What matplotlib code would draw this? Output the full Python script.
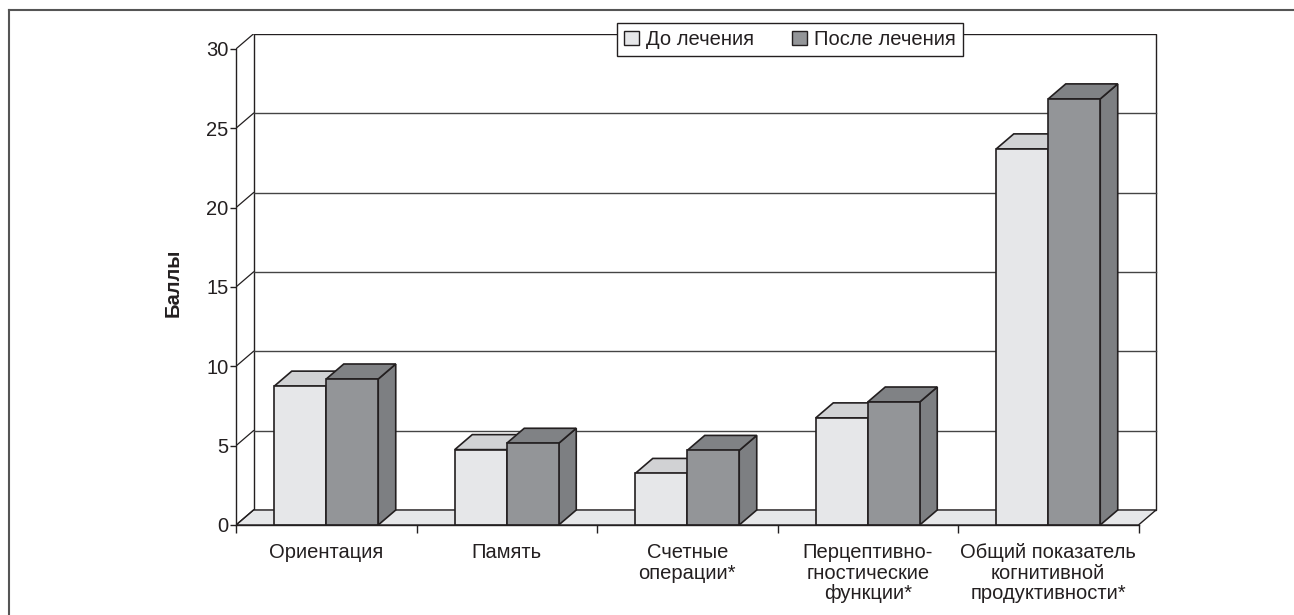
import matplotlib
matplotlib.use("Agg")
import matplotlib.pyplot as plt
from matplotlib.patches import Polygon, Rectangle, Patch
from matplotlib.lines import Line2D

plt.rcParams['font.family'] = ['Liberation Sans', 'DejaVu Sans']

categories = ["Ориентация", "Память", "Счетные\nоперации*",
              "Перцептивно-\nгностические\nфункции*",
              "Общий показатель\nкогнитивной\nпродуктивности*"]
before = [8.75, 4.75, 3.25, 6.75, 23.7]
after = [9.2, 5.15, 4.7, 7.75, 26.85]
series_names = ["До лечения", "После лечения"]
yticks = [0, 5, 10, 15, 20, 25, 30]

ink = "#231f20"
light_front, light_top = "#e6e7e9", "#d1d2d4"
dark_front, dark_top, dark_side = "#939598", "#808285", "#7d7f82"

W, H = 1294, 615
fig = plt.figure(figsize=(W / 100, H / 100), dpi=100)
ax = fig.add_axes([236 / W, (H - 525) / H, (1158 - 236) / W, (525 - 34) / H])

# depth of the fake 3d box, in data units
ddx, ddy = 0.097, 0.945
bw = 0.288
n = len(categories)
x0, x1 = -0.5, n - 0.5

ax.set_xlim(x0, x0 + 922 / 180.5)
ax.set_ylim(0, 491 / 15.87)

# back wall, floor, left wall
ax.add_patch(Rectangle((x0 + ddx, ddy), n, 30, facecolor="white",
                       edgecolor=ink, lw=1.0, zorder=1))
ax.add_patch(Polygon([(x0, 0), (x1, 0), (x1 + ddx, ddy), (x0 + ddx, ddy)],
                     closed=True, facecolor=light_front, edgecolor=ink, lw=1.0, zorder=2))
for t in yticks:
    if 0 < t < 30:
        ax.plot([x0 + ddx, x1 + ddx], [t + ddy, t + ddy], color="#444444", lw=1.0, zorder=1.5)
    ax.plot([x0, x0 + ddx], [t, t + ddy], color=ink, lw=0.9, zorder=2.5)


def bar3d(left, h, front, top, side):
    right = left + bw
    ax.add_patch(Polygon([(right, 0), (right, h), (right + ddx, h + ddy), (right + ddx, ddy)],
                         closed=True, facecolor=side, edgecolor=ink, lw=1.2, zorder=3))
    ax.add_patch(Polygon([(left, h), (right, h), (right + ddx, h + ddy), (left + ddx, h + ddy)],
                         closed=True, facecolor=top, edgecolor=ink, lw=1.2, zorder=3))
    ax.bar(left, h, width=bw, align="edge", color=front, edgecolor=ink, lw=1.2, zorder=3)


for i in range(n):
    bar3d(i - bw, before[i], light_front, light_top, light_top)
    bar3d(i, after[i], dark_front, dark_top, dark_side)

# axes
for s in ["top", "right"]:
    ax.spines[s].set_visible(False)
for s in ["left", "bottom"]:
    ax.spines[s].set_color(ink)
    ax.spines[s].set_linewidth(1.0)
    ax.spines[s].set_zorder(4)
ax.spines["left"].set_bounds(0, 30)
ax.spines["bottom"].set_bounds(x0, x1)

ax.set_yticks(yticks)
ax.set_yticklabels([str(t) for t in yticks])
ax.tick_params(axis="y", direction="out", length=4.5, width=1.0, color=ink,
               labelsize=14.5, pad=1, labelcolor=ink)
ax.set_xticks(range(n))
ax.set_xticklabels(categories, fontsize=14.5, color=ink, linespacing=1.1, va="top")
ax.tick_params(axis="x", which="major", length=0, pad=13)
ax.set_xticks([i - 0.5 for i in range(n + 1)], minor=True)
ax.tick_params(axis="x", which="minor", direction="out", length=6, width=1.0, color=ink)

fig.text(173 / W, 1 - 283 / H, "Баллы", rotation=90, ha="center", va="center",
         fontsize=14.5, fontweight="bold", color=ink)

handles = [Patch(facecolor=light_front, edgecolor=ink, lw=1.0),
           Patch(facecolor=dark_front, edgecolor=ink, lw=1.0)]
leg = fig.legend(handles, series_names, loc="center", ncol=2,
                 bbox_to_anchor=(790 / W, 1 - 39.5 / H), fontsize=14.5,
                 handlelength=0.75, handleheight=0.75, handletextpad=0.35,
                 columnspacing=1.9, borderpad=0.35, fancybox=False,
                 edgecolor=ink, framealpha=1)
leg.get_frame().set_linewidth(1.0)
for t in leg.get_texts():
    t.set_color(ink)

# partial outer frame (top and left)
fig.add_artist(Line2D([9 / W, 1], [1 - 10 / H, 1 - 10 / H], color="#555555", lw=1.5))
fig.add_artist(Line2D([9 / W, 9 / W], [0, 1 - 10 / H], color="#555555", lw=1.5))

fig.savefig("out.png", dpi=100)
